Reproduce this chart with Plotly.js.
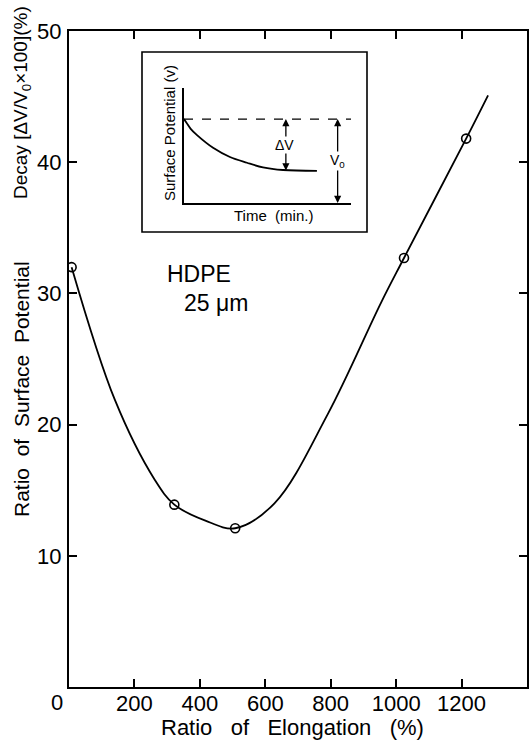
<!DOCTYPE html>
<html>
<head>
<meta charset="utf-8">
<script src="https://cdn.plot.ly/plotly-3.0.1.min.js"></script>
<style>html,body{margin:0;padding:0;background:#fff;}#chart{width:529px;height:740px;}</style>
</head>
<body>
<div id="chart"></div>
<script>
// Main data: ratio of elongation (%) vs ratio of surface potential decay (%)
const elongation = [8, 322, 508, 1024, 1214];
const decay = [32.0, 13.9, 12.1, 32.7, 41.8];
// Fitted curve
const curveX = [8, 140, 262, 322, 415, 508, 628, 791, 954, 1024, 1214, 1281];
const curveY = [32.0, 21.9, 15.8, 13.9, 12.7, 12.1, 14.0, 20.8, 29.3, 32.7, 41.8, 45.1];
const xTicks = [200, 400, 600, 800, 1000, 1200];
const yTicks = [10, 20, 30, 40, 50];

// Inset schematic: surface potential vs time
const insetTime = [0, 0.16, 0.4, 0.78, 1.74, 2.75, 3.77, 4.73, 5.93, 7.96];
const insetPotential = [7.3, 6.95, 6.45, 5.9, 4.8, 4.0, 3.5, 3.1, 2.87, 2.8];
const insetV0Level = 7.3;
const insetDashX = [0, 10];
const insetDeltaX = 6.1;
const insetV0X = 9.2;
const insetFinal = 2.83;

const W = 529, H = 740;
const M = {l: 69, r: 2, t: 31, b: 53};
const pw = W - M.l - M.r, ph = H - M.t - M.b;
const px = x => (x - M.l) / pw;
const py = y => (H - M.b - y) / ph;

const FONT = 'Liberation Sans, Arial, sans-serif';
const S = '\u00A0';

const traces = [
  {x: curveX, y: curveY, mode: 'lines', line: {shape: 'spline', smoothing: 1, color: '#000', width: 1.8}, hoverinfo: 'skip', showlegend: false},
  {x: elongation, y: decay, mode: 'markers', marker: {symbol: 'circle-open', size: 9, color: '#000', line: {width: 1.6, color: '#000'}}, showlegend: false},
  {x: insetTime, y: insetPotential, xaxis: 'x2', yaxis: 'y2', mode: 'lines', line: {shape: 'spline', smoothing: 1, color: '#000', width: 1.8}, showlegend: false},
  {x: insetDashX, y: insetDashX.map(() => insetV0Level), xaxis: 'x2', yaxis: 'y2', mode: 'lines', line: {dash: 'dash', color: '#000', width: 1.2}, showlegend: false}
];

const arrow = (x, yHead, yTail) => ({
  xref: 'x2', yref: 'y2', axref: 'x2', ayref: 'y2',
  x: x, y: yHead, ax: x, ay: yTail, text: '', showarrow: true,
  arrowhead: 2, arrowsize: 1.1, arrowwidth: 1.3, arrowcolor: '#000'
});

const midD = (insetV0Level + insetFinal) / 2;
const midV = insetV0Level / 2;

const txt = (x, y, text, size, extra) => Object.assign({
  xref: 'paper', yref: 'paper', x: px(x), y: py(y), text: text, showarrow: false,
  xanchor: 'center', yanchor: 'middle', font: {family: FONT, size: size, color: '#000'}
}, extra || {});

const annotations = [
  arrow(insetDeltaX, insetV0Level, midD),
  arrow(insetDeltaX, insetFinal, midD),
  arrow(insetV0X, insetV0Level, midV),
  arrow(insetV0X, 0, midV),
  {xref: 'x2', yref: 'y2', x: insetDeltaX - 0.1, y: midD, text: 'ΔV', showarrow: false, xanchor: 'center', yanchor: 'middle', bgcolor: '#fff', borderpad: 0, font: {family: FONT, size: 14, color: '#000'}},
  {xref: 'x2', yref: 'y2', x: insetV0X, y: midV, text: 'V<sub>0</sub>', showarrow: false, xanchor: 'center', yanchor: 'middle', bgcolor: '#fff', borderpad: 0, font: {family: FONT, size: 14, color: '#000'}},
  txt(273, 215, 'Time' + S + S + '(min.)', 15),
  txt(169, 133, 'Surface Potential (v)', 15, {textangle: -90}),
  txt(199, 274, 'HDPE', 23),
  txt(216, 303, '25 μm', 23),
  txt(22, 389, 'Ratio' + S + S + 'of' + S + S + 'Surface' + S + S + 'Potential', 21, {textangle: -90}),
  txt(22, 103, 'Decay' + S + '[ΔV/V<sub>0</sub>×100](%)', 19, {textangle: -90}),
  txt(292, 727, 'Ratio' + S + S + S + 'of' + S + S + S + 'Elongation' + S + S + S + '(%)', 22),
  txt(57, 702, '0', 22)
];

const layout = {
  width: W, height: H,
  margin: M,
  paper_bgcolor: '#fff', plot_bgcolor: '#fff',
  showlegend: false,
  font: {family: FONT, size: 22, color: '#000'},
  xaxis: {
    range: [0, 1400], tickvals: xTicks, ticktext: xTicks.map(String),
    showline: true, linewidth: 2, linecolor: '#000', mirror: 'ticks',
    ticks: 'inside', ticklen: 8, tickwidth: 2, tickcolor: '#000',
    showgrid: false, zeroline: false, fixedrange: true,
    ticklabelstandoff: -4,
    tickfont: {family: FONT, size: 22, color: '#000'}
  },
  yaxis: {
    range: [0, 50], tickvals: yTicks, ticktext: yTicks.map(String),
    showline: true, linewidth: 2, linecolor: '#000', mirror: 'ticks',
    ticks: 'inside', ticklen: 8, tickwidth: 2, tickcolor: '#000',
    showgrid: false, zeroline: false, fixedrange: true,
    ticklabelstandoff: 1,
    tickfont: {family: FONT, size: 22, color: '#000'}
  },
  xaxis2: {
    domain: [px(184), px(351)], anchor: 'y2', range: [0, 10],
    showline: true, linewidth: 2, linecolor: '#000',
    showticklabels: false, ticks: '', showgrid: false, zeroline: false, fixedrange: true
  },
  yaxis2: {
    domain: [py(203), py(88)], anchor: 'x2', range: [0, 10],
    showline: true, linewidth: 2, linecolor: '#000',
    showticklabels: false, ticks: '', showgrid: false, zeroline: false, fixedrange: true
  },
  shapes: [
    {type: 'rect', xref: 'paper', yref: 'paper', x0: px(142), x1: px(367), y0: py(232), y1: py(52), line: {color: '#000', width: 1.6}, fillcolor: 'rgba(0,0,0,0)'}
  ],
  annotations: annotations
};

Plotly.newPlot('chart', traces, layout, {staticPlot: true, displayModeBar: false});
</script>
</body>
</html>
